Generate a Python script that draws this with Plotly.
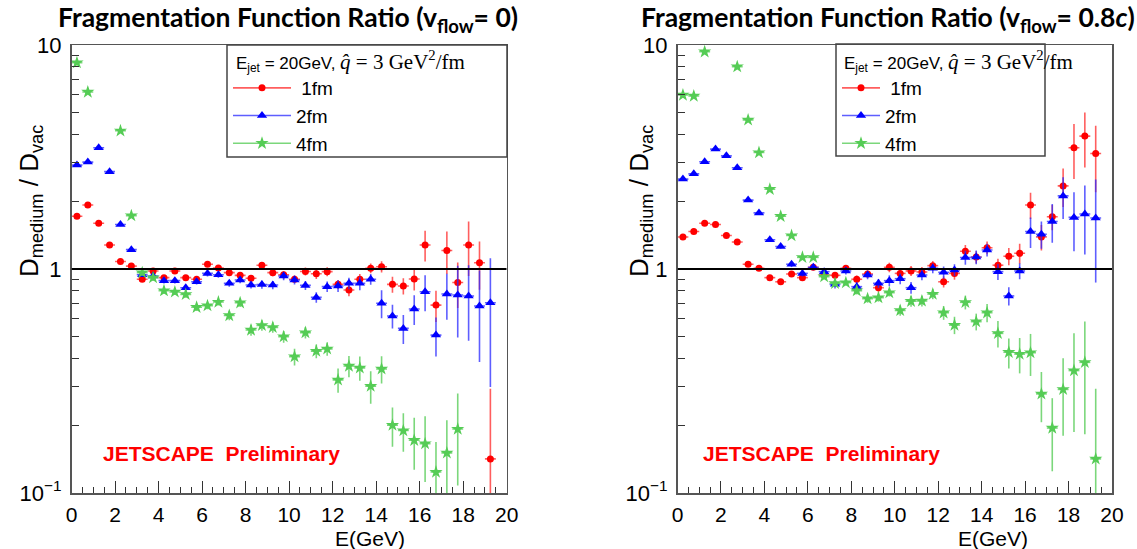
import plotly.graph_objects as go

W, H = 1137, 549


def px(x):
    return x / W


def py(y):
    return 1 - y / H


# ---------------- data ----------------
E_GEV = [0.25, 0.75, 1.25, 1.75, 2.25, 2.75, 3.25, 3.75, 4.25, 4.75, 5.25, 5.75, 6.25,
         6.75, 7.25, 7.75, 8.25, 8.75, 9.25, 9.75, 10.25, 10.75, 11.25, 11.75, 12.25,
         12.75, 13.25, 13.75, 14.25, 14.75, 15.25, 15.75, 16.25, 16.75, 17.25, 17.75,
         18.25, 18.75, 19.25]
BIN_HALF_WIDTH = 0.25

# v_flow = 0
L_1FM = [1.72, 1.93, 1.60, 1.28, 1.08, 1.03, 0.90, 0.98, 0.915, 0.98, 0.915, 0.90, 1.05,
         1.01, 0.963, 0.937, 0.909, 1.04, 0.963, 0.943, 0.90, 0.975, 0.953, 0.973, 0.854,
         0.806, 0.90, 1.007, 1.024, 0.854, 0.84, 0.902, 1.28, 0.69, 1.21, 0.87, 1.28,
         1.067, 0.142]
L_1FM_ERR = [0.02, 0.02, 0.02, 0.02, 0.02, 0.02, 0.02, 0.02, 0.02, 0.025, 0.025, 0.025, 0.03,
             0.03, 0.03, 0.03, 0.03, 0.035, 0.035, 0.035, 0.035, 0.04, 0.05, 0.045, 0.04,
             0.05, 0.05, 0.05, 0.06, 0.07, 0.07, 0.1, 0.2, 0.11, 0.26, 0.2, 0.35, 0.26, 0.15]
L_2FM = [2.91, 3.00, 3.48, 2.72, 1.58, 1.22, 0.943, 0.93, 0.887, 0.887, 0.825, 0.877, 0.956,
         0.943, 0.863, 0.893, 0.848, 0.852, 0.848, 0.93, 0.893, 0.845, 0.747, 0.834, 0.84,
         0.863, 0.863, 0.90, 0.703, 0.617, 0.543, 0.663, 0.792, 0.507, 0.773, 0.765, 0.758,
         0.684, 0.707]
L_2FM_ERR = [0.04, 0.04, 0.05, 0.04, 0.03, 0.03, 0.02, 0.02, 0.025, 0.025, 0.025, 0.025, 0.03,
             0.03, 0.03, 0.03, 0.03, 0.035, 0.035, 0.04, 0.04, 0.04, 0.04, 0.045, 0.05, 0.05,
             0.06, 0.05, 0.1, 0.075, 0.08, 0.1, 0.145, 0.1, 0.18, 0.27, 0.28, 0.3, 0.41]
L_4FM = [8.34, 6.17, None, None, 4.14, 1.73, 0.963, 0.915, 0.80, 0.79, 0.77, 0.675, 0.686,
         0.712, 0.62, 0.707, 0.534, 0.56, 0.549, 0.499, 0.406, 0.52, 0.43, 0.44, 0.32,
         0.369, 0.362, 0.30, 0.358, 0.201, 0.19, 0.172, 0.166, 0.124, 0.151, 0.193,
         None, None, None]
L_4FM_ERR = [0.15, 0.12, 0, 0, 0.08, 0.04, 0.03, 0.03, 0.025, 0.025, 0.025, 0.025, 0.025,
             0.025, 0.03, 0.03, 0.03, 0.03, 0.03, 0.03, 0.035, 0.03, 0.03, 0.03, 0.04, 0.04,
             0.045, 0.05, 0.05, 0.04, 0.037, 0.045, 0.054, 0.045, 0.06, 0.085, 0, 0, 0]

# v_flow = 0.8c
R_1FM = [1.39, 1.47, 1.60, 1.58, 1.41, 1.32, 1.05, 1.007, 0.915, 0.877, 0.95, 0.915, 1.017,
         0.94, 0.937, 1.007, 0.90, 0.95, 0.825, 1.017, 0.956, 0.98, 0.97, 1.035, 0.877,
         0.956, 1.20, 1.13, 1.245, 1.04, 1.14, 1.175, 1.93, 1.39, 1.71, 2.35, 3.48, 3.92,
         3.28]
R_1FM_ERR = [0.02, 0.02, 0.02, 0.02, 0.02, 0.02, 0.02, 0.02, 0.02, 0.02, 0.025, 0.025, 0.03,
             0.03, 0.03, 0.035, 0.035, 0.035, 0.04, 0.05, 0.05, 0.05, 0.05, 0.05, 0.05, 0.06,
             0.08, 0.07, 0.08, 0.07, 0.1, 0.12, 0.26, 0.18, 0.22, 0.46, 0.96, 1.08, 1.08]
R_2FM = [2.52, 2.66, 3.01, 3.43, 3.20, 2.83, 2.03, 1.78, 1.35, 1.26, 1.05, 0.956, 1.017,
         0.973, 0.854, 0.98, 0.834, 0.94, 0.863, 0.887, 0.905, 0.825, 0.94, 1.007, 0.966,
         0.99, 1.125, 1.13, 1.216, 0.973, 0.758, 0.98, 1.47, 1.43, 1.63, 2.12, 1.70, 1.76,
         1.69]
R_2FM_ERR = [0.04, 0.04, 0.05, 0.06, 0.05, 0.05, 0.04, 0.035, 0.03, 0.03, 0.03, 0.03, 0.03,
             0.03, 0.035, 0.035, 0.04, 0.04, 0.04, 0.05, 0.05, 0.05, 0.05, 0.05, 0.06, 0.06,
             0.08, 0.08, 0.08, 0.08, 0.07, 0.08, 0.23, 0.2, 0.32, 0.45, 0.5, 0.6, 0.82]
R_4FM = [5.98, 5.92, 9.33, None, None, 8.0, 4.63, 3.31, 2.27, 1.72, 1.41, 1.127, 1.127,
         0.924, 0.863, 0.869, 0.80, 0.737, 0.745, 0.784, 0.653, 0.718, 0.72, 0.773, 0.638,
         0.562, 0.71, 0.582, 0.638, 0.516, 0.425, 0.417, 0.423, 0.277, 0.195, 0.29, 0.352,
         0.383, 0.142]
R_4FM_ERR = [0.12, 0.12, 0.2, 0, 0, 0.15, 0.08, 0.06, 0.04, 0.03, 0.03, 0.025, 0.025, 0.025,
             0.025, 0.025, 0.03, 0.03, 0.03, 0.03, 0.035, 0.04, 0.04, 0.04, 0.045, 0.05, 0.05,
             0.05, 0.06, 0.07, 0.065, 0.075, 0.09, 0.07, 0.07, 0.11, 0.165, 0.2, 0.15]

SERIES_NAMES = ["\u00a01fm", "2fm", "4fm"]
Y_TICKS = [0.1, 1, 10]
Y_TICKTEXT = ["10<sup>\u22121</sup>", "1", "10"]
Y_MINOR = [0.2, 0.3, 0.4, 0.5, 0.6, 0.7, 0.8, 0.9, 2, 3, 4, 5, 6, 7, 8, 9]
X_TICKS = [0, 2, 4, 6, 8, 10, 12, 14, 16, 18, 20]

# ---------------- styles ----------------
STYLES = [
    dict(color="#ff0000", bar="rgba(255,40,40,0.75)", symbol="circle", size=7),
    dict(color="#0000ff", bar="rgba(40,40,255,0.75)", symbol="triangle-up", size=9),
    dict(color="#55cc55", bar="rgba(90,205,90,0.8)", symbol="star", size=10),
]
SANS = "Liberation Sans, Arial, sans-serif"
SERIF = "Liberation Serif, DejaVu Serif, serif"

fig = go.Figure()

panels = [
    ("x", "y", "legend", [(L_1FM, L_1FM_ERR), (L_2FM, L_2FM_ERR), (L_4FM, L_4FM_ERR)]),
    ("x2", "y2", "legend2", [(R_1FM, R_1FM_ERR), (R_2FM, R_2FM_ERR), (R_4FM, R_4FM_ERR)]),
]

for xa, ya, leg, series in panels:
    for (vals, errs), st, name in zip(series, STYLES, SERIES_NAMES):
        minus = [None if v is None else min(e, 0.97 * v) for v, e in zip(vals, errs)]
        fig.add_trace(go.Scatter(
            x=E_GEV, y=vals, mode="markers", xaxis=xa, yaxis=ya, showlegend=False,
            hoverinfo="skip",
            marker=dict(color=st["color"], symbol=st["symbol"], size=st["size"],
                        line=dict(width=0)),
            error_y=dict(type="data", array=errs, arrayminus=minus, color=st["bar"],
                         thickness=1.6, width=0),
            error_x=dict(type="constant", value=BIN_HALF_WIDTH, color=st["bar"],
                         thickness=1.6, width=0),
        ))
    for st, name in zip(STYLES, SERIES_NAMES):
        fig.add_trace(go.Scatter(
            x=[None], y=[None], mode="lines+markers", name=name, xaxis=xa, yaxis=ya,
            legend=leg,
            line=dict(color=st["bar"], width=1.6),
            marker=dict(color=st["color"], symbol=st["symbol"], size=st["size"]),
        ))

xcommon = dict(
    range=[0, 20], tickmode="array", tickvals=X_TICKS, ticks="inside", ticklen=12,
    tickwidth=1, tickcolor="#333",
    minor=dict(dtick=0.5, tick0=0, ticks="inside", ticklen=6, tickcolor="#333", tickwidth=1),
    showline=True, linecolor="#555", linewidth=1.5, mirror=True, showgrid=False,
    zeroline=False, tickfont=dict(family=SANS, size=21, color="black"),
    ticklabelstandoff=2, automargin=False,
)
ycommon = dict(
    type="log", range=[-1, 1], tickmode="array", tickvals=Y_TICKS, ticktext=Y_TICKTEXT,
    ticks="inside", ticklen=14, tickwidth=1, tickcolor="#333",
    minor=dict(tickmode="array", tickvals=Y_MINOR, ticks="inside", ticklen=7,
               tickcolor="#333", tickwidth=1),
    showline=True, linecolor="#555", linewidth=1.5, mirror=True, showgrid=False,
    zeroline=False, tickfont=dict(family=SANS, size=22, color="black"),
    domain=[py(493), py(45)], ticklabelstandoff=4, automargin=False,
)

fig.update_layout(
    template="none",
    font=dict(family=SANS, color="black"),
    width=W, height=H, margin=dict(l=0, r=0, t=0, b=0, pad=0, autoexpand=False),
    paper_bgcolor="white", plot_bgcolor="white",
    xaxis=dict(xcommon, domain=[px(71.5), px(506.7)], anchor="y"),
    yaxis=dict(ycommon, anchor="x"),
    xaxis2=dict(xcommon, domain=[px(677.5), px(1112)], anchor="y2"),
    yaxis2=dict(ycommon, anchor="x2"),
    legend=dict(x=px(228), y=py(69), xanchor="left", yanchor="top", bgcolor="rgba(0,0,0,0)",
                borderwidth=0, itemwidth=58, font=dict(family=SANS, size=19, color="black"),
                tracegroupgap=0),
    legend2=dict(x=px(837), y=py(69), xanchor="left", yanchor="top", bgcolor="rgba(0,0,0,0)",
                 borderwidth=0, itemwidth=38, font=dict(family=SANS, size=19, color="black"),
                 tracegroupgap=0),
    showlegend=True,
)

shapes = []
for xr, yr in (("x", "y"), ("x2", "y2")):
    shapes.append(dict(type="line", xref=xr, yref=yr, x0=0, x1=20, y0=1, y1=1,
                       line=dict(color="black", width=2)))
shapes.append(dict(type="rect", xref="paper", yref="paper", x0=px(227), x1=px(507),
                   y0=py(157), y1=py(45), line=dict(color="#444", width=1.5)))
shapes.append(dict(type="rect", xref="paper", yref="paper", x0=px(836), x1=px(1045),
                   y0=py(156), y1=py(44), line=dict(color="#444", width=1.5)))
fig.update_layout(shapes=shapes)

LEG_TITLE = ("E<sub>jet</sub> = 20GeV, <span style=\"font-family:" + SERIF +
             ";font-size:21px\"><i>q\u0302</i> = 3 GeV<sup>2</sup>/fm</span>")

annots = []


def ann(text, x, y, xanchor="center", yanchor="middle", **kw):
    d = dict(text=text, x=px(x), y=py(y), xref="paper", yref="paper", showarrow=False,
             xanchor=xanchor, yanchor=yanchor)
    d.update(kw)
    annots.append(d)


TITLE_FONT = dict(family="Lato, Open Sans, sans-serif", size=26.5, color="black")
ann("<b>Fragmentation Function Ratio (v<sub>flow</sub>= 0)</b>", 288, 19, font=TITLE_FONT)
ann("<b>Fragmentation Function Ratio (v<sub>flow</sub>= 0.8<i>c</i>)</b>", 888, 19,
    font=TITLE_FONT)
for xc in (31, 641):
    ann("D<sub>medium</sub> / D<sub>vac</sub>", xc, 201, textangle=-90,
        font=dict(family=SANS, size=26, color="black"))
for xr in (407, 1030):
    ann("E(GeV)", xr, 538, xanchor="right", font=dict(family=SANS, size=21, color="black"))
for xc in (221, 821):
    ann("<b>JETSCAPE  Preliminary</b>", xc, 453,
        font=dict(family=SANS, size=21, color="#ff0000"))
ann(LEG_TITLE, 234, 61, xanchor="left", font=dict(family=SANS, size=17, color="black"))
ann(LEG_TITLE, 842, 61, xanchor="left", font=dict(family=SANS, size=17, color="black"))
fig.update_layout(annotations=annots)

fig.write_html("out.html",
               config={"displayModeBar": False, "staticPlot": True},
               post_script="document.body.style.margin='0';"
                           "document.body.style.overflow='hidden';")
